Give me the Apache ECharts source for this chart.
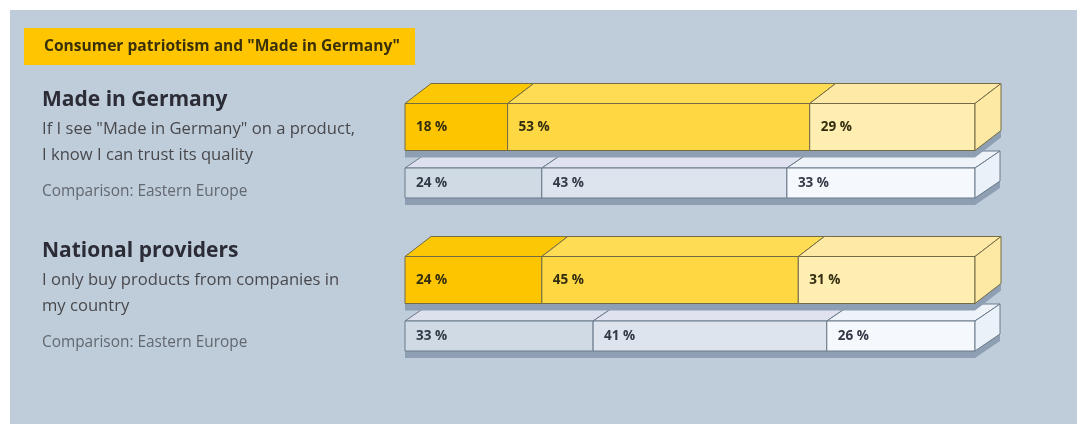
<!DOCTYPE html>
<html>
<head>
<meta charset="utf-8">
<script src="https://cdn.jsdelivr.net/npm/echarts@6/dist/echarts.min.js"></script>
<style>
  html, body { margin: 0; padding: 0; background: #ffffff; }
  #chart { width: 1077px; height: 424px; }
</style>
</head>
<body>
<div id="chart"></div>
<script>
// ---- data ----
const chartTitle = 'Consumer patriotism and "Made in Germany"';
const topics = ['Made in Germany', 'National providers'];
const statements = [
  ['If I see "Made in Germany" on a product,', 'I know I can trust its quality'],
  ['I only buy products from companies in', 'my country']
];
const comparisonNote = 'Comparison: Eastern Europe';
const regions = ['Germany', 'Eastern Europe'];
// three answer shares per topic, left to right
const germanyShares = [[18, 53, 29], [24, 45, 31]];
const easternEuropeShares = [[24, 43, 33], [33, 41, 26]];

// ---- styling ----
const FONT = "'Open Sans', 'Noto Sans', sans-serif";
const rowStyles = {
  'Germany': {
    height: 47, dx: 26, dy: -20,
    front: ['#fdc400', '#fdd843', '#feeeb1'],
    top:   ['#fcc704', '#fedd55', '#fee9a6'],
    side: '#fde9a3',
    stroke: '#736b45',
    text: '#332d10'
  },
  'Eastern Europe': {
    height: 30, dx: 25, dy: -17,
    front: ['#cfdae5', '#dee4ee', '#f5f9fd'],
    top:   ['#dde1ee', '#e0e3ef', '#eef3fa'],
    side: '#eaf1f9',
    stroke: '#6a7a8a',
    text: '#333946'
  }
};
const shadowColor = '#8e9fb3';
const shadowOffset = 7;

// grid layout per topic (two rows each: Germany above, Eastern Europe below)
const gridTops = [99, 252];

function makeRenderer(region) {
  const st = rowStyles[region];
  return function (params, api) {
    const cat = api.value(0);
    const shares = [api.value(1), api.value(2), api.value(3)];
    const h = st.height;
    const yc = api.coord([0, cat])[1];
    const yTop = yc - h / 2, yBot = yc + h / 2;
    const xs = api.coord([0, cat])[0];
    const total = shares[0] + shares[1] + shares[2];
    const xe = api.coord([total, cat])[0];
    const children = [];
    // drop shadow of the whole block
    const s = shadowOffset;
    children.push({
      type: 'polygon',
      shape: { points: [
        [xs, yTop + s], [xs + st.dx, yTop + st.dy + s], [xe + st.dx, yTop + st.dy + s],
        [xe + st.dx, yBot + st.dy + s], [xe, yBot + s], [xs, yBot + s]
      ] },
      style: { fill: shadowColor }
    });
    let acc = 0;
    shares.forEach(function (v, i) {
      const x0 = api.coord([acc, cat])[0];
      const x1 = api.coord([acc + v, cat])[0];
      // top face
      children.push({
        type: 'polygon',
        shape: { points: [[x0, yTop], [x0 + st.dx, yTop + st.dy], [x1 + st.dx, yTop + st.dy], [x1, yTop]] },
        style: { fill: st.top[i], stroke: st.stroke, lineWidth: 1 }
      });
      // front face
      children.push({
        type: 'rect',
        shape: { x: x0, y: yTop, width: x1 - x0, height: h },
        style: { fill: st.front[i], stroke: st.stroke, lineWidth: 1 }
      });
      // value label
      children.push({
        type: 'text',
        x: x0 + 11, y: yc,
        style: {
          text: v + ' %', fill: st.text,
          font: "bold 13.5px 'Liberation Sans Narrow', " + FONT,
          verticalAlign: 'middle', align: 'left'
        }
      });
      acc += v;
    });
    // right side face
    children.push({
      type: 'polygon',
      shape: { points: [[xe, yTop], [xe + st.dx, yTop + st.dy], [xe + st.dx, yBot + st.dy], [xe, yBot]] },
      style: { fill: st.side, stroke: st.stroke, lineWidth: 1 }
    });
    return { type: 'group', children: children };
  };
}

const grids = [], xAxes = [], yAxes = [], series = [];
topics.forEach(function (topic, t) {
  grids.push({ left: 405, right: 102, top: gridTops[t], height: 112 });
  xAxes.push({ gridIndex: t, type: 'value', min: 0, max: 100, show: false });
  yAxes.push({ gridIndex: t, type: 'category', data: regions, inverse: true, show: false });
  series.push({
    type: 'custom', name: topic + ' – Eastern Europe', xAxisIndex: t, yAxisIndex: t, z: 2,
    renderItem: makeRenderer('Eastern Europe'),
    data: [[1].concat(easternEuropeShares[t])],
    silent: true
  });
  series.push({
    type: 'custom', name: topic + ' – Germany', xAxisIndex: t, yAxisIndex: t, z: 3,
    renderItem: makeRenderer('Germany'),
    data: [[0].concat(germanyShares[t])],
    silent: true
  });
});

// left-hand descriptions
const textBlocks = [];
topics.forEach(function (topic, t) {
  const base = gridTops[t];
  textBlocks.push({
    type: 'text', x: 42, y: base + 1 - t * 2,
    style: { text: topic, font: 'bold 21px ' + FONT, fill: '#2b2c36', verticalAlign: 'middle' }
  });
  statements[t].forEach(function (line, k) {
    textBlocks.push({
      type: 'text', x: 42, y: base + 30 + k * 26 - t * 2,
      style: { text: line, font: '16.6px ' + FONT, fill: '#48484c', verticalAlign: 'middle' }
    });
  });
  textBlocks.push({
    type: 'text', x: 42, y: base + 93 - t * 2,
    style: { text: comparisonNote, font: '15.4px ' + FONT, fill: '#626870', verticalAlign: 'middle' }
  });
});

const chart = echarts.init(document.getElementById('chart'), null, { renderer: 'canvas' });
chart.setOption({
  backgroundColor: '#ffffff',
  animation: false,
  graphic: [
    { type: 'rect', z: -10, shape: { x: 10, y: 10, width: 1067, height: 414 }, style: { fill: '#bfcddb' } },
    { type: 'rect', z: -9, shape: { x: 24, y: 28, width: 391, height: 37 }, style: { fill: '#fec500' } },
    {
      type: 'text', x: 44, y: 47,
      style: { text: chartTitle, font: 'bold 15.6px ' + FONT, fill: '#3a3008', verticalAlign: 'middle' }
    }
  ].concat(textBlocks),
  grid: grids,
  xAxis: xAxes,
  yAxis: yAxes,
  series: series
});
</script>
</body>
</html>
